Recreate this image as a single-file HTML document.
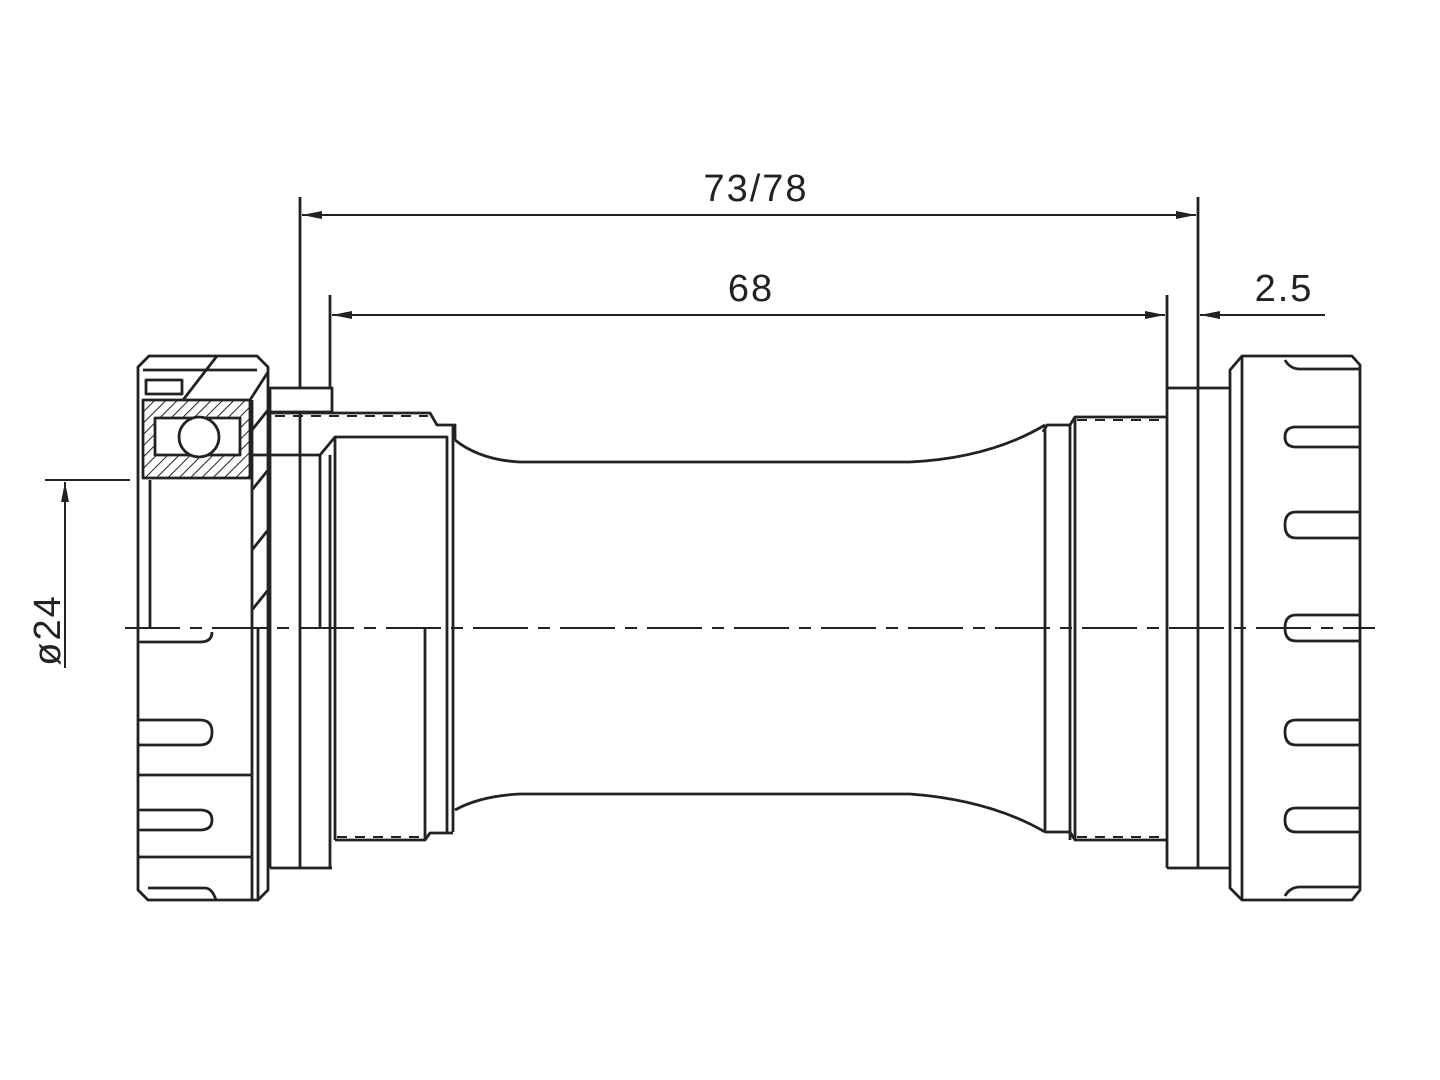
<!DOCTYPE html>
<html><head><style>html,body{margin:0;padding:0;background:#fff}svg{display:block}</style></head><body>
<svg width="1440" height="1080" viewBox="0 0 1440 1080" xmlns="http://www.w3.org/2000/svg">
<defs>
<pattern id="h" width="8" height="8" patternUnits="userSpaceOnUse" patternTransform="rotate(45)">
<line x1="0" y1="0" x2="0" y2="8" stroke="#222" stroke-width="2"/></pattern>
<marker id="a" viewBox="0 0 20 8" refX="20" refY="4" markerWidth="20" markerHeight="8" orient="auto-start-reverse" markerUnits="userSpaceOnUse">
<path d="M0,0 L20,4 L0,8 Z" fill="#222"/></marker>
</defs>
<g fill="none" stroke="#222" stroke-width="2.8" stroke-linejoin="round">
<line x1="300" y1="197" x2="300" y2="388"/>
<line x1="1198" y1="197" x2="1198" y2="388"/>
<line x1="330" y1="295" x2="330" y2="388"/>
<line x1="1167" y1="295" x2="1167" y2="388"/>
<line x1="302" y1="215" x2="1196" y2="215" marker-start="url(#a)" marker-end="url(#a)" stroke-width="2"/>
<line x1="332" y1="315" x2="1165" y2="315" marker-start="url(#a)" marker-end="url(#a)" stroke-width="2"/>
<line x1="1200" y1="315" x2="1325" y2="315" marker-start="url(#a)" stroke-width="2"/>
<line x1="45" y1="480" x2="130" y2="480" stroke-width="2"/>
<line x1="65" y1="668" x2="65" y2="482" marker-end="url(#a)" stroke-width="2"/>
<line x1="125" y1="628" x2="1375" y2="628" stroke-dasharray="55,10,12,10" stroke-width="2"/>

<path d="M138,367 L149,356 L257,356 L268,367 L268,890 L258,900 L148,900 L138,890 Z"/>
<line x1="150" y1="480" x2="150" y2="628"/>
<line x1="252" y1="400" x2="252" y2="900"/>
<line x1="258" y1="628" x2="258" y2="900"/>
<path d="M252,430 L268,410 M252,490 L268,470 M252,550 L268,530 M252,610 L268,590"/>
<line x1="183" y1="400" x2="217" y2="356"/>
<line x1="250" y1="400" x2="268" y2="372"/>
<line x1="143" y1="370" x2="257" y2="370"/>
<rect x="146" y="380" width="36" height="14"/>
<rect x="143" y="400" width="107" height="78" fill="url(#h)"/>
<rect x="155" y="418" width="85" height="37" fill="#fff"/>
<circle cx="199" cy="437" r="20" fill="#fff"/>
<path d="M138,642 L200,642 Q212,642 212,632"/>
<path d="M138,720 L200,720 Q212,720 212,732 Q212,745 200,745 L138,745"/>
<line x1="138" y1="775" x2="252" y2="775"/>
<path d="M138,810 L200,810 Q212,810 212,820 Q212,830 200,830 L138,830"/>
<line x1="138" y1="857" x2="252" y2="857"/>
<path d="M148,888 L205,888 Q212,888 216,900"/>

<rect x="270" y="388" width="62" height="24"/>
<line x1="270" y1="412" x2="270" y2="868"/>
<line x1="300" y1="412" x2="300" y2="868"/>
<line x1="330" y1="455" x2="330" y2="868"/>
<line x1="270" y1="868" x2="332" y2="868"/>
<path d="M268,413 L430,413 L437,425 L455,425 L455,440"/>
<line x1="275" y1="416" x2="428" y2="416" stroke-dasharray="10,8" stroke-width="2"/>
<path d="M250,455 L320,455 L335,437 L447,437 L447,832"/>
<line x1="320" y1="455" x2="320" y2="628"/>
<line x1="335" y1="437" x2="335" y2="840"/>
<line x1="453" y1="425" x2="453" y2="832"/>
<line x1="425" y1="628" x2="425" y2="840"/>
<path d="M335,840 L425,840 L430,833 L453,833"/>
<line x1="337" y1="837" x2="423" y2="837" stroke-dasharray="10,8" stroke-width="2"/>

<path d="M455,440 Q480,460 520,462 L910,462 Q990,458 1045,425"/>
<path d="M455,810 Q480,796 520,794 L910,794 Q990,800 1045,832"/>
<path d="M1043,432 L1047,425 L1070,425 L1075,417 L1167,417"/>
<line x1="1077" y1="420" x2="1165" y2="420" stroke-dasharray="10,8" stroke-width="2"/>
<line x1="1045" y1="425" x2="1045" y2="832"/>
<line x1="1070" y1="425" x2="1070" y2="840"/>
<line x1="1075" y1="417" x2="1075" y2="840"/>
<line x1="1167" y1="388" x2="1167" y2="868"/>
<path d="M1045,832 L1070,832 L1075,840 L1167,840"/>
<line x1="1077" y1="837" x2="1165" y2="837" stroke-dasharray="10,8" stroke-width="2"/>
<path d="M1167,388 L1230,388"/>
<line x1="1198" y1="388" x2="1198" y2="868"/>
<path d="M1167,868 L1230,868"/>
<path d="M1230,370 L1242,356 L1352,356 L1360,365 L1360,890 L1352,900 L1242,900 L1230,888 Z"/>
<line x1="1242" y1="356" x2="1242" y2="900"/>
<path d="M1285,360 Q1290,369 1300,369 L1360,369"/>
<path d="M1360,427 L1296,427 Q1285,427 1285,437 Q1285,447 1296,447 L1360,447"/>
<path d="M1360,512 L1296,512 Q1285,512 1285,525 Q1285,538 1296,538 L1360,538"/>
<path d="M1360,615 L1296,615 Q1285,615 1285,628 Q1285,641 1296,641 L1360,641"/>
<path d="M1360,720 L1296,720 Q1285,720 1285,732 Q1285,745 1296,745 L1360,745"/>
<path d="M1360,808 L1296,808 Q1285,808 1285,820 Q1285,832 1296,832 L1360,832"/>
<path d="M1285,896 Q1290,887 1300,887 L1360,887"/>
</g>
<g font-family="Liberation Sans, sans-serif" font-size="38" fill="#222" text-anchor="middle" letter-spacing="2">
<text x="756" y="201">73/78</text>
<text x="751" y="301">68</text>
<text x="1284" y="301">2.5</text>
<text x="0" y="0" transform="translate(60,630) rotate(-90)">ø24</text>
</g>
</svg>
</body></html>
